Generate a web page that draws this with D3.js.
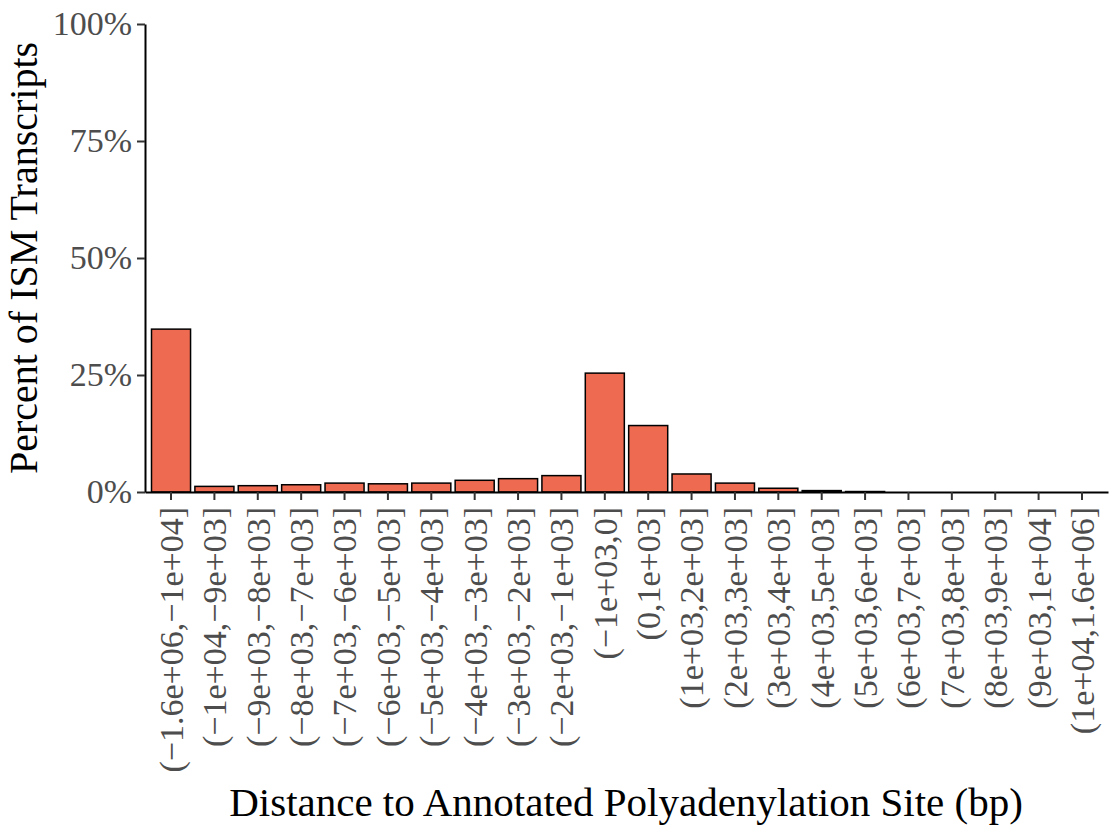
<!doctype html>
<html lang="en">
  <head>
    <meta charset="UTF-8" />
    <title>ISM transcripts by distance to polyA site</title>
    <script src="https://cdn.jsdelivr.net/npm/d3@7"></script>
    <style>
      body { margin: 0; background: #fff; }
      svg text { font-family: "Liberation Serif", serif; }
      .tick text { fill: #4d4d4d; font-size: 34px; }
      .tick line { stroke: #333; stroke-width: 2px; }
    </style>
  </head>
  <body>
    <div id="chart"></div>
    <script>
      // bins (bp) and percent of ISM transcripts in each
      const bins = [
        "(\u22121.6e+06,\u22121e+04]", "(\u22121e+04,\u22129e+03]", "(\u22129e+03,\u22128e+03]",
        "(\u22128e+03,\u22127e+03]", "(\u22127e+03,\u22126e+03]", "(\u22126e+03,\u22125e+03]",
        "(\u22125e+03,\u22124e+03]", "(\u22124e+03,\u22123e+03]", "(\u22123e+03,\u22122e+03]",
        "(\u22122e+03,\u22121e+03]", "(\u22121e+03,0]", "(0,1e+03]",
        "(1e+03,2e+03]", "(2e+03,3e+03]", "(3e+03,4e+03]", "(4e+03,5e+03]",
        "(5e+03,6e+03]", "(6e+03,7e+03]", "(7e+03,8e+03]", "(8e+03,9e+03]",
        "(9e+03,1e+04]", "(1e+04,1.6e+06]"
      ];
      const percents = [34.8, 1.2, 1.35, 1.55, 1.9, 1.75, 1.9, 2.5, 2.85, 3.5,
                        25.4, 14.2, 3.85, 1.9, 0.8, 0.3, 0.1, 0, 0, 0, 0, 0];
      const yTicks = [0, 25, 50, 75, 100];

      const width = 1113, height = 825;
      const plotLeft = 145, plotRight = 1108, plotTop = 24, plotBottom = 492;

      const svg = d3.select("#chart").append("svg")
          .attr("width", width)
          .attr("height", height);

      const x = d3.scaleBand()
          .domain(bins)
          .range([plotLeft, plotRight])
          .paddingInner(0.1)
          .paddingOuter(0.15);

      const y = d3.scaleLinear()
          .domain([0, 100])
          .range([plotBottom, plotTop]);

      // bars
      svg.append("g").selectAll("rect")
        .data(percents)
        .join("rect")
          .attr("x", (d, i) => x(bins[i]))
          .attr("y", d => y(d))
          .attr("width", x.bandwidth())
          .attr("height", d => y(0) - y(d))
          .attr("fill", "#EE6A50")
          .attr("stroke", "#000")
          .attr("stroke-width", 1.5);

      // x axis
      const xAxis = svg.append("g")
          .attr("transform", `translate(0,${plotBottom})`)
          .call(d3.axisBottom(x).tickSize(8).tickPadding(0).tickSizeOuter(0));
      xAxis.select(".domain").attr("stroke", "#000").attr("stroke-width", 2);
      xAxis.selectAll(".tick text")
          .attr("transform", "rotate(-90)")
          .attr("text-anchor", "end")
          .attr("x", -15)
          .attr("y", 0)
          .attr("dy", "0.35em");

      // y axis
      const yAxis = svg.append("g")
          .attr("transform", `translate(${plotLeft},0)`)
          .call(d3.axisLeft(y).tickValues(yTicks).tickFormat(d => d + "%")
                  .tickSize(8).tickPadding(5).tickSizeOuter(0));
      yAxis.select(".domain").attr("stroke", "#000").attr("stroke-width", 2);

      // titles
      svg.append("text")
          .attr("x", 626)
          .attr("y", 816)
          .attr("text-anchor", "middle")
          .attr("font-size", 41)
          .text("Distance to Annotated Polyadenylation Site (bp)");

      svg.append("text")
          .attr("transform", `translate(37,${(plotTop + plotBottom) / 2}) rotate(-90)`)
          .attr("text-anchor", "middle")
          .attr("font-size", 40)
          .text("Percent of ISM Transcripts");
    </script>
  </body>
</html>
